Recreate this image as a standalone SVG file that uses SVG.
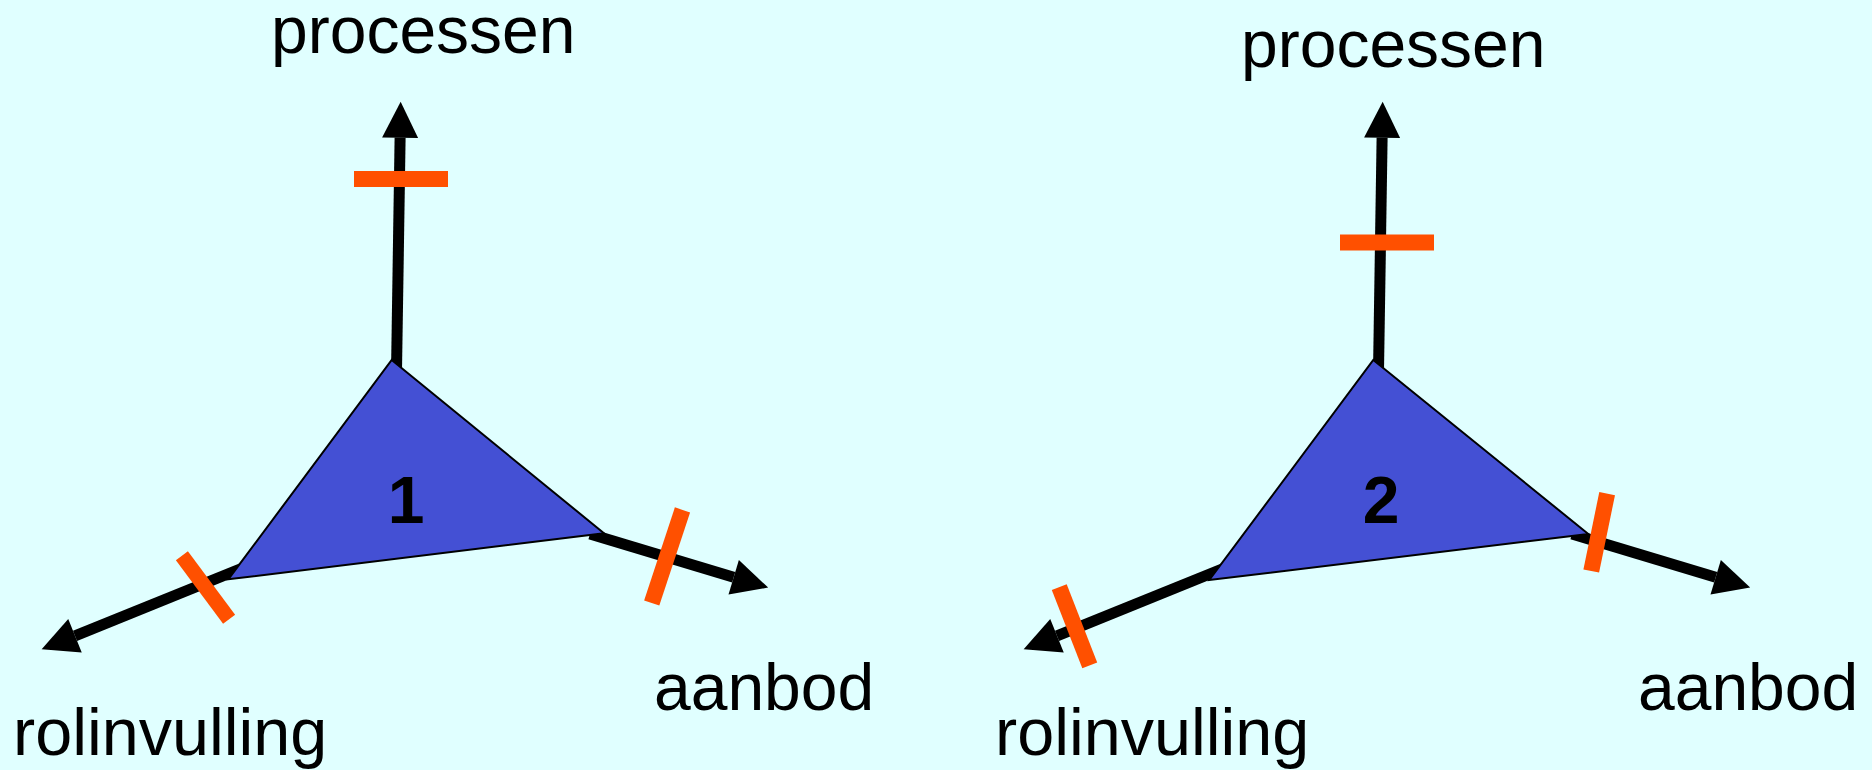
<svg xmlns="http://www.w3.org/2000/svg" width="1872" height="770" viewBox="0 0 1872 770">
<style>
.lbl{font-family:"Liberation Sans",Arial,sans-serif;font-size:66px;fill:#000}
.num{font-family:"Liberation Sans",Arial,sans-serif;font-size:66px;font-weight:bold;fill:#000;text-anchor:middle}
.shaft{stroke:#000;stroke-width:11;fill:none;marker-end:url(#ah)}
.tri{fill:#4450D4;stroke:#000;stroke-width:2;stroke-linejoin:miter}
.bar{fill:#FF5000}
</style>
<defs>
<marker id="ah" markerUnits="userSpaceOnUse" markerWidth="36" markerHeight="36" viewBox="0 0 36 36" refX="0" refY="18" orient="auto" overflow="visible">
<path d="M0,0 L36,18 L0,36 z" fill="#000"/>
</marker>
</defs>
<rect x="0" y="0" width="1872" height="770" fill="#E0FFFF"/>
<g id="connectors">
<line class="shaft" x1="396.5" y1="372" x2="400.1" y2="137.7"/>
<line class="shaft" x1="250" y1="565" x2="75" y2="635.8"/>
<line class="shaft" x1="590" y1="534" x2="733.7" y2="577.2"/>
<line class="shaft" x1="1378.5" y1="372" x2="1382.1" y2="137.7"/>
<line class="shaft" x1="1232" y1="565" x2="1057" y2="635.8"/>
<line class="shaft" x1="1572" y1="534" x2="1715.7" y2="577.2"/>
</g>
<g id="triangle1">
<polygon class="tri" points="391.7,360 604,533.3 228.3,579.3"/>
<text class="num" x="406" y="523">1</text>
</g>
<g id="triangle2">
<polygon class="tri" points="1373.3,360 1588.3,534 1209.3,580"/>
<text class="num" x="1381" y="523">2</text>
</g>
<g id="bars">
<rect class="bar" x="354" y="171" width="94" height="16"/>
<rect class="bar" x="-39.5" y="-7.5" width="79" height="15" transform="translate(205.5,587.5) rotate(53.3)"/>
<rect class="bar" x="-49" y="-8" width="98" height="16" transform="translate(667.1,556.4) rotate(108.3)"/>
<rect class="bar" x="1340" y="234.5" width="94" height="16"/>
<rect class="bar" x="-42" y="-8" width="84" height="16" transform="translate(1074.5,626.3) rotate(68.7)"/>
<rect class="bar" x="-39.5" y="-8" width="79" height="16" transform="translate(1599.2,532.3) rotate(101.6)"/>
</g>
<g id="label-processen-1"><text class="lbl" x="271" y="53">processen</text></g>
<g id="label-rolinvulling-1"><text class="lbl" x="13" y="755" style="font-size:66.5px">rolinvulling</text></g>
<g id="label-aanbod-1"><text class="lbl" x="654" y="710">aanbod</text></g>
<g id="label-processen-2"><text class="lbl" x="1241" y="67">processen</text></g>
<g id="label-rolinvulling-2"><text class="lbl" x="995" y="755" style="font-size:66.5px">rolinvulling</text></g>
<g id="label-aanbod-2"><text class="lbl" x="1638" y="710">aanbod</text></g>
</svg>
